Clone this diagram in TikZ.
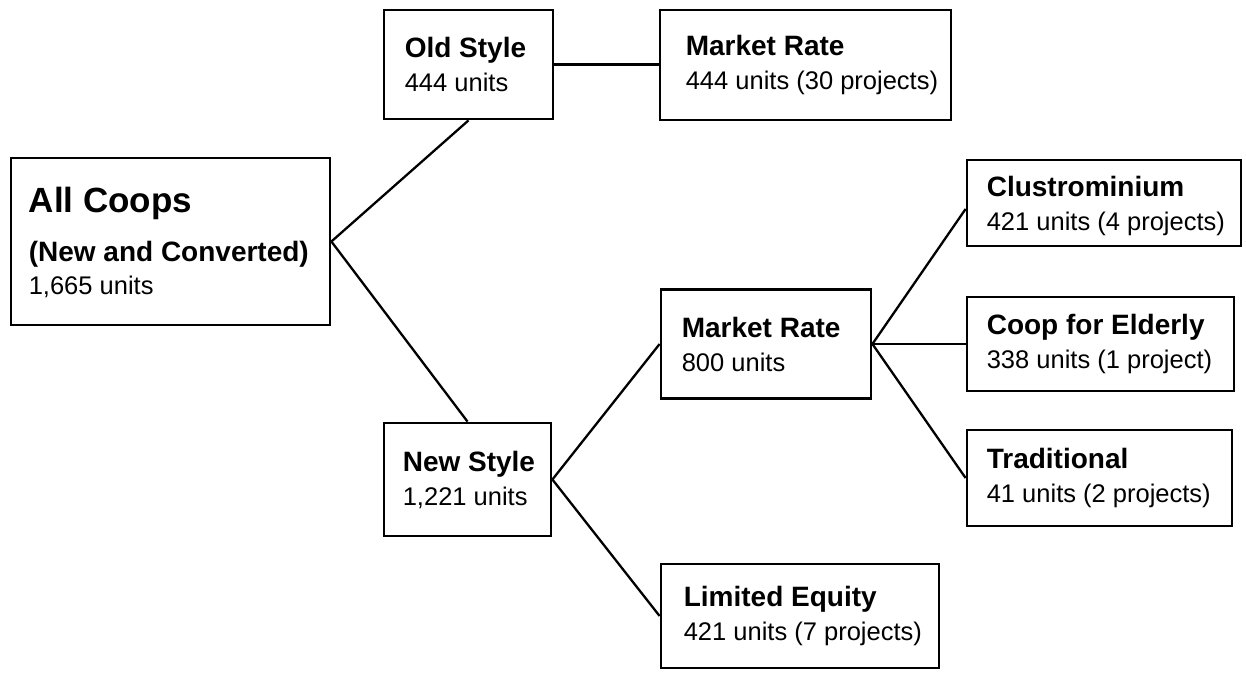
\documentclass[tikz,border=0pt]{standalone}
\usepackage{fontspec}
\setmainfont{Liberation Sans}
\begin{document}
\begin{tikzpicture}[x=1pt,y=-1pt,
  box/.style={draw, line width=2.8pt, inner sep=0pt},
  lbl/.style={anchor=west, align=left, inner sep=0pt, font=\fontsize{25.5}{34}\selectfont},
  link/.style={line width=2.3pt}]
\newcommand{\ttl}[1]{{\bfseries\fontsize{28}{34}\selectfont #1}}
\useasboundingbox (0,0) rectangle (1246,679);
% boxes
\node[box, minimum width=319pt, minimum height=167pt] (allc)  at (170.5,241.5) {};
\node[box, minimum width=169pt, minimum height=109pt] (olds)  at (468.5,64.5) {};
\node[box, minimum width=291pt, minimum height=110pt] (mr1)   at (805.5,65) {};
\node[box, minimum width=167pt, minimum height=113pt] (news)  at (467.5,479.5) {};
\node[box, minimum width=210pt, minimum height=109pt] (mr2)   at (766,344) {};
\node[box, minimum width=278pt, minimum height=104pt] (lim)   at (800,616) {};
\node[box, minimum width=274pt, minimum height=86pt]  (clus)  at (1104,203) {};
\node[box, minimum width=267pt, minimum height=94pt]  (elder) at (1100.5,344) {};
\node[box, minimum width=265pt, minimum height=96pt]  (trad)  at (1099.5,478) {};
% texts
\node[lbl] (tallc) at ([xshift=19pt,yshift=-1pt]allc.west)
  {{\bfseries\fontsize{35}{34}\selectfont All Coops}\\[15pt]
   {\bfseries\fontsize{28}{34}\selectfont (New and Converted)}\\[-1pt]
   1,665 units};
\node[lbl] (tolds)  at ([xshift=22pt]olds.west)  {\ttl{Old Style}\\444 units};
\node[lbl] (tmr1)   at ([xshift=27pt]mr1.west)   {\ttl{Market Rate}\\444 units (30 projects)};
\node[lbl] (tnews)  at ([xshift=20pt]news.west)  {\ttl{New Style}\\1,221 units};
\node[lbl] (tmr2)   at ([xshift=22pt]mr2.west)   {\ttl{Market Rate}\\800 units};
\node[lbl] (tlim)   at ([xshift=24pt]lim.west)   {\ttl{Limited Equity}\\421 units (7 projects)};
\node[lbl] (tclus)  at ([xshift=21pt,yshift=-3pt]clus.west)  {\ttl{Clustrominium}\\421 units (4 projects)};
\node[lbl] (telder) at ([xshift=21pt]elder.west) {\ttl{Coop for Elderly}\\338 units (1 project)};
\node[lbl] (ttrad)  at ([xshift=21pt]trad.west)  {\ttl{Traditional}\\41 units (2 projects)};
% connectors
\draw[link] (allc.east) -- (olds.south);
\draw[link] (allc.east) -- (news.north);
\draw[link] (olds.east) -- (olds.east -| mr1.west);
\draw[link] (news.east) -- (mr2.west);
\draw[link] (news.east) -- (lim.west);
\draw[link] (mr2.east) -- ([yshift=-6pt]clus.west);
\draw[link] (mr2.east) -- (elder.west);
\draw[link] (mr2.east) -- (trad.west);
\end{tikzpicture}
\end{document}
